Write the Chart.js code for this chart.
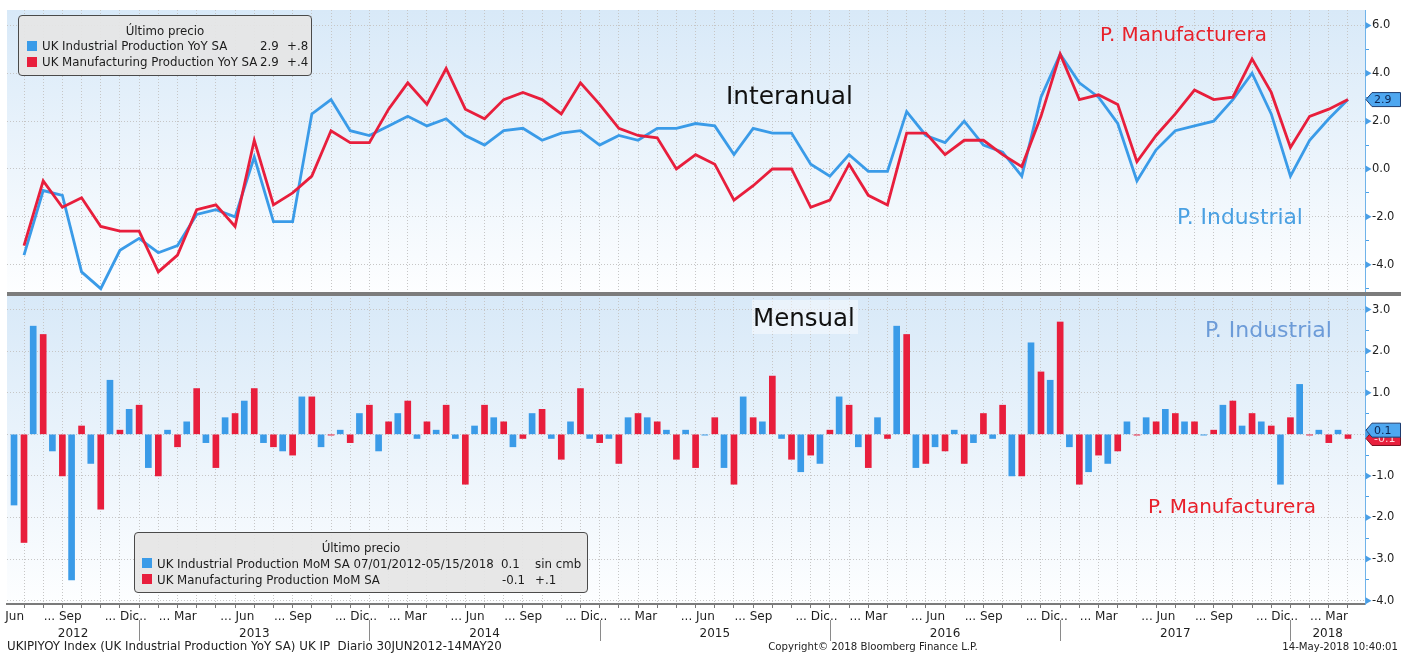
<!DOCTYPE html>
<html><head><meta charset="utf-8">
<script src="https://cdn.jsdelivr.net/npm/chart.js@4.4.1/dist/chart.umd.min.js"></script>
<style>
html,body{margin:0;padding:0;background:#fff;}
#wrap{position:relative;width:1401px;height:653px;overflow:hidden;font-family:'DejaVu Sans',sans-serif;background:#fff;}
#wrap canvas{position:absolute;left:0;top:0;}
.t{position:absolute;white-space:pre;line-height:1;}
.box{position:absolute;border:1px solid #4a4a4a;border-radius:4px;background:rgba(229,229,229,0.93);box-sizing:border-box;}
.sw{position:absolute;width:10px;height:10px;}
</style></head>
<body><div id="wrap"><canvas id="c" width="1401" height="653"></canvas></div>
<script>
// ---- data (Jun 2012 .. Mar 2018, monthly) ----
const years = ['2012','2013','2014','2015','2016','2017','2018'];
const xTickLabels = [
  "Jun","","","... Sep","","","... Dic",
  "...   ","","... Mar","","","... Jun","","","... Sep","","","... Dic",
  "...   ","","... Mar","","","... Jun","","","... Sep","","","... Dic",
  "...   ","","... Mar","","","... Jun","","","... Sep","","","... Dic",
  "...   ","","... Mar","","","... Jun","","","... Sep","","","... Dic",
  "...   ","","... Mar","","","... Jun","","","... Sep","","","... Dic",
  "...   ","","... Mar"
];
const indYoY = [-3.6,-0.9,-1.1,-4.3,-5.0,-3.4,-2.9,-3.5,-3.2,-1.9,-1.7,-2.0,0.5,-2.2,-2.2,2.3,2.9,1.6,1.4,1.8,2.2,1.8,2.1,1.4,
  1.0,1.6,1.7,1.2,1.5,1.6,1.0,1.4,1.2,1.7,1.7,1.9,1.8,0.6,1.7,1.5,1.5,0.2,-0.3,0.6,-0.1,-0.1,2.4,1.4,
  1.1,2.0,1.0,0.7,-0.3,3.0,4.8,3.6,3.0,1.9,-0.5,0.8,1.6,1.8,2.0,2.9,4.0,2.3,-0.3,1.2,2.1,2.9];
const manYoY = [-3.2,-0.5,-1.6,-1.2,-2.4,-2.6,-2.6,-4.3,-3.6,-1.7,-1.5,-2.4,1.2,-1.5,-1.0,-0.3,1.6,1.1,1.1,2.5,3.6,2.7,4.2,2.5,
  2.1,2.9,3.2,2.9,2.3,3.6,2.7,1.7,1.4,1.3,0.0,0.6,0.2,-1.3,-0.7,0.0,0.0,-1.6,-1.3,0.2,-1.1,-1.5,1.5,1.5,
  0.6,1.2,1.2,0.6,0.1,2.2,4.8,2.9,3.1,2.7,0.3,1.4,2.3,3.3,2.9,3.0,4.6,3.2,0.9,2.2,2.5,2.9];
const indMoM = [-1.7,2.6,-0.4,-3.5,-0.7,1.3,0.6,-0.8,0.1,0.3,-0.2,0.4,0.8,-0.2,-0.4,0.9,-0.3,0.1,0.5,-0.4,0.5,-0.1,0.1,-0.1,
  0.2,0.4,-0.3,0.5,-0.1,0.3,-0.1,-0.1,0.4,0.4,0.1,0.1,-0.02,-0.8,0.9,0.3,-0.1,-0.9,-0.7,0.9,-0.3,0.4,2.6,-0.8,
  -0.3,0.1,-0.2,-0.1,-1.0,2.2,1.3,-0.3,-0.9,-0.7,0.3,0.4,0.6,0.3,-0.02,0.7,0.2,0.3,-1.2,1.2,0.1,0.1];
const manMoM = [-2.6,2.4,-1.0,0.2,-1.8,0.1,0.7,-1.0,-0.3,1.1,-0.8,0.5,1.1,-0.3,-0.5,0.9,-0.02,-0.2,0.7,0.3,0.8,0.3,0.7,-1.2,
  0.7,0.3,-0.1,0.6,-0.6,1.1,-0.2,-0.7,0.5,0.3,-0.6,-0.8,0.4,-1.2,0.4,1.4,-0.6,-0.5,0.1,0.7,-0.8,-0.1,2.4,-0.7,
  -0.4,-0.7,0.5,0.7,-1.0,1.5,2.7,-1.2,-0.5,-0.4,-0.02,0.3,0.5,0.3,0.1,0.8,0.5,0.2,0.4,-0.02,-0.2,-0.1];
const yTopTicks = [-5,-4,-3,-2,-1,0,1,2,3,4,5,6];
const yBotTicks = [-4,-3.5,-3,-2.5,-2,-1.5,-1,-0.5,0,0.5,1,1.5,2,2.5,3];
const lastTop = [{v:2.9, fill:'#4ea7f0', stroke:'#1d3d70', text:'2.9', tc:'#0b2350'}];
const lastBot = [{v:-0.1, fill:'#e8203d', stroke:'#7a1020', text:'-0.1', tc:'#ffd8dc'},
                 {v:0.1, fill:'#4ea7f0', stroke:'#1d3d70', text:'0.1', tc:'#0b2350'}];

const BLUE = '#3a9be8', RED = '#e81e3c';
const idx = indYoY.map((_, i) => i);
Chart.defaults.font.family = "'DejaVu Sans', sans-serif";

const panelPlugin = {
  id: 'panels',
  beforeDraw(chart) {
    const {ctx, chartArea} = chart;
    ['yTop','yBot'].forEach(id => {
      const s = chart.scales[id];
      const g = ctx.createLinearGradient(0, s.top, 0, s.bottom);
      g.addColorStop(0, '#d8e9f8');
      g.addColorStop(1, '#fdfeff');
      ctx.fillStyle = g;
      ctx.fillRect(chartArea.left, s.top, chartArea.right - chartArea.left, s.bottom - s.top);
    });
  },
  afterDraw(chart) {
    const {ctx, chartArea} = chart;
    const xs = chart.scales.x, yt = chart.scales.yTop, yb = chart.scales.yBot;
    ctx.save();
    // separator between panels
    ctx.fillStyle = '#7c7c7c';
    ctx.fillRect(chartArea.left, yt.bottom - 2, chart.width - chartArea.left, 4);
    // major tick triangles
    ctx.fillStyle = '#4a9fe6';
    [[yt, v => v % 2 === 0], [yb, v => Number.isInteger(v)]].forEach(([s, major]) => {
      s.ticks.forEach(t => {
        if (!major(t.value)) return;
        const y = s.getPixelForValue(t.value);
        const x0 = s.left + 0.5;
        ctx.beginPath(); ctx.moveTo(x0, y - 3.5); ctx.lineTo(x0 + 6, y); ctx.lineTo(x0, y + 3.5); ctx.closePath(); ctx.fill();
      });
    });
    // year separators + labels
    ctx.strokeStyle = '#8a8a8a'; ctx.lineWidth = 1;
    ctx.fillStyle = '#1e1e1e'; ctx.font = "12px 'DejaVu Sans'"; ctx.textAlign = 'center'; ctx.textBaseline = 'alphabetic';
    years.forEach((yr, k) => {
      const a = k === 0 ? xs.min : 6 + 12 * (k - 1);
      const b = k === years.length - 1 ? xs.max : 6 + 12 * k;
      const xa = xs.getPixelForValue(a), xb = xs.getPixelForValue(b);
      ctx.fillText(yr, (xa + xb) / 2, 637);
      if (k < years.length - 1) {
        const xx = Math.round(xb) + 0.5;
        ctx.beginPath(); ctx.moveTo(xx, 620); ctx.lineTo(xx, 641); ctx.stroke();
      }
    });
    // last value tags
    const tag = (s, o) => {
      const y = s.getPixelForValue(o.v);
      const x = chartArea.right + 1;
      ctx.beginPath();
      ctx.moveTo(x, y); ctx.lineTo(x + 6, y - 7); ctx.lineTo(chart.width - 0.5, y - 7);
      ctx.lineTo(chart.width - 0.5, y + 7); ctx.lineTo(x + 6, y + 7); ctx.closePath();
      ctx.fillStyle = o.fill; ctx.fill(); ctx.strokeStyle = o.stroke; ctx.lineWidth = 1; ctx.stroke();
      ctx.fillStyle = o.tc; ctx.font = "11px 'DejaVu Sans'"; ctx.textAlign = 'left'; ctx.textBaseline = 'middle';
      ctx.fillText(o.text, x + 8, y + 0.5);
    };
    lastTop.forEach(o => tag(yt, o));
    lastBot.forEach(o => tag(yb, o));
    ctx.restore();
  }
};

new Chart(document.getElementById('c'), {
  type: 'bar',
  data: {
    datasets: [
      {type:'line', label:'UK Manufacturing Production YoY SA', yAxisID:'yTop', order:1,
       data: manYoY.map((v, i) => ({x: i, y: v})), borderColor: RED, borderWidth: 2.8, pointRadius: 0, tension: 0, fill: false},
      {type:'line', label:'UK Industrial Production YoY SA', yAxisID:'yTop', order:2,
       data: indYoY.map((v, i) => ({x: i, y: v})), borderColor: BLUE, borderWidth: 2.8, pointRadius: 0, tension: 0, fill: false},
      {type:'bar', label:'UK Industrial Production MoM SA', yAxisID:'yBot', order:3, grouped:false,
       data: indMoM.map((v, i) => ({x: i - 0.52, y: v})), backgroundColor: BLUE, barThickness: 6, borderWidth: 0},
      {type:'bar', label:'UK Manufacturing Production MoM SA', yAxisID:'yBot', order:4, grouped:false,
       data: manMoM.map((v, i) => ({x: i, y: v})), backgroundColor: RED, barThickness: 6, borderWidth: 0}
    ]
  },
  options: {
    responsive: false, animation: false, events: [],
    layout: {padding: {top: 10, left: 7, right: 0, bottom: 0}},
    plugins: {legend: {display: false}, tooltip: {enabled: false}},
    scales: {
      x: {
        type: 'linear', min: -0.886, max: 69.886, offset: false,
        afterBuildTicks(s) { s.ticks = idx.map(v => ({value: v})); },
        afterFit(s) { s.height = 49; },
        ticks: {autoSkip: false, maxRotation: 0, minRotation: 0, align: 'end', padding: 2, color: '#1e1e1e',
                font: {size: 12}, callback: (v) => xTickLabels[v] ?? ''},
        grid: {offset: false, color: '#c6c6c6', lineWidth: 1, tickLength: 4, tickColor: '#777', tickWidth: 1, tickBorderDash: []},
        border: {display: true, color: '#7a7a7a', width: 2, dash: [1, 2]}
      },
      yTop: {
        type: 'linear', position: 'right', stack: 'v', stackWeight: 284, min: -5.224, max: 6.644,
        afterBuildTicks(s) { s.ticks = yTopTicks.map(v => ({value: v})); },
        afterFit(s) { s.width = 36; },
        ticks: {autoSkip: false, padding: 3, color: '#222', font: {size: 11.5}, callback: (v) => v % 2 === 0 ? v.toFixed(1) : ''},
        grid: {color: (c) => (c.tick && c.tick.value % 2 === 0) ? '#c6c6c6' : 'rgba(0,0,0,0)', tickColor: '#4a9fe6', tickLength: 4, tickBorderDash: []},
        border: {color: '#6fb3ea', width: 1, dash: [1, 2]}
      },
      yBot: {
        type: 'linear', position: 'right', stack: 'v', stackWeight: 310, min: -4.079, max: 3.373,
        afterBuildTicks(s) { s.ticks = yBotTicks.map(v => ({value: v})); },
        afterFit(s) { s.width = 36; },
        ticks: {autoSkip: false, padding: 3, color: '#222', font: {size: 11.5}, callback: (v) => Number.isInteger(v) ? v.toFixed(1) : ''},
        grid: {color: (c) => (c.tick && Number.isInteger(c.tick.value)) ? '#c6c6c6' : 'rgba(0,0,0,0)', tickColor: '#4a9fe6', tickLength: 4, tickBorderDash: []},
        border: {color: '#6fb3ea', width: 1, dash: [1, 2]}
      }
    }
  },
  plugins: [panelPlugin]
});

// ---- overlay texts ----
const wrap = document.getElementById('wrap');
function txt(s, x, base, size, color, align, fitW) {
  const d = document.createElement('div');
  d.className = 't'; d.textContent = s;
  d.style.fontSize = size + 'px'; d.style.color = color;
  wrap.appendChild(d);
  if (fitW) { const w = d.getBoundingClientRect().width; size = size * fitW / w; d.style.fontSize = size + 'px'; }
  d.style.top = (base - 0.846 * size) + 'px';
  const w2 = d.getBoundingClientRect().width;
  let left = x;
  if (align === 'center') left = x - w2 / 2; else if (align === 'right') left = x - w2;
  d.style.left = left + 'px';
  return d;
}
function box(l, t, w, h, cls, bg) {
  const d = document.createElement('div');
  d.className = cls || 'box';
  Object.assign(d.style, {left: l + 'px', top: t + 'px', width: w + 'px', height: h + 'px'});
  if (bg) d.style.background = bg;
  wrap.appendChild(d);
  return d;
}
const LG = 11.8, TC = '#1c1c1c';
// top legend
box(18, 15, 294, 61);
txt('Último precio', 165, 36, LG, TC, 'center');
box(27, 41, 10, 10, 'sw', BLUE); box(27, 56.5, 10, 10, 'sw', RED);
txt('UK Industrial Production YoY SA', 42, 51, LG, TC);
txt('2.9', 260, 51, LG, TC); txt('+.8', 287, 51, LG, TC);
txt('UK Manufacturing Production YoY SA', 42, 66.5, LG, TC);
txt('2.9', 260, 66.5, LG, TC); txt('+.4', 287, 66.5, LG, TC);
// bottom legend
box(134, 532, 454, 61);
txt('Último precio', 361, 553, LG, TC, 'center');
box(142, 558, 10, 10, 'sw', BLUE); box(142, 574, 10, 10, 'sw', RED);
txt('UK Industrial Production MoM SA 07/01/2012-05/15/2018', 157, 569, LG, TC);
txt('0.1', 501, 569, LG, TC); txt('sin cmb', 535, 569, LG, TC);
txt('UK Manufacturing Production MoM SA', 157, 584.5, LG, TC);
txt('-0.1', 502, 584.5, LG, TC); txt('+.1', 535, 584.5, LG, TC);
// annotations
txt('Interanual', 726, 105, 24.8, '#111', 'left', 127);
txt('P. Manufacturera', 1100, 42, 19.5, '#e8202a', 'left', 167);
txt('P. Industrial', 1177, 224, 21, '#4aa0e2', 'left', 126);
box(752, 300, 106, 34, 'sw', 'rgba(255,255,255,0.45)');
txt('Mensual', 753, 327, 24.5, '#111', 'left', 102);
txt('P. Industrial', 1205, 338, 21, '#6c9bd8', 'left', 127);
txt('P. Manufacturera', 1148, 513, 19.6, '#e8202a', 'left', 168);
// footer
txt('UKIPIYOY Index (UK Industrial Production YoY SA) UK IP  Diario 30JUN2012-14MAY20', 7, 651, 11, '#222', 'left', 495);
txt('Copyright\u00a9 2018 Bloomberg Finance L.P.', 873, 651, 11, '#222', 'center', 210);
txt('14-May-2018 10:40:01', 1398, 651, 11, '#222', 'right', 116);
</script></body></html>
